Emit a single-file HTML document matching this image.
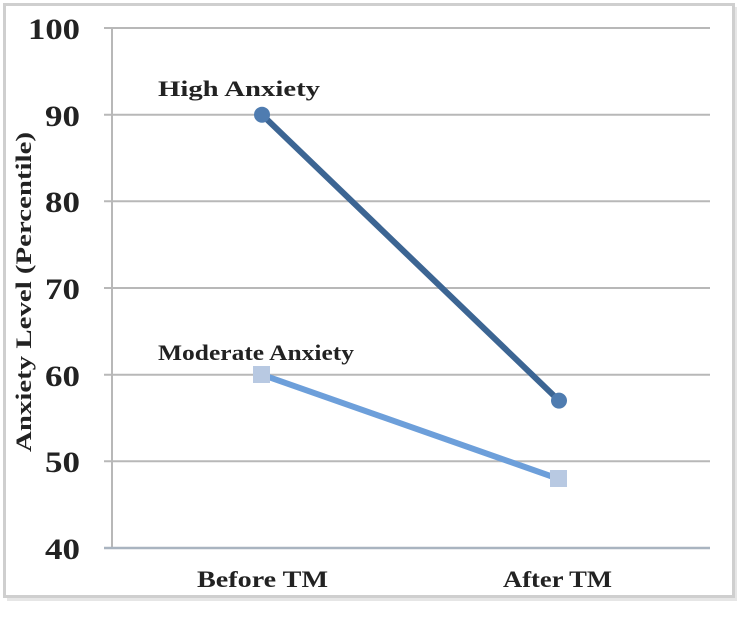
<!DOCTYPE html>
<html><head><style>
body{margin:0;background:#fff;}
</style></head><body>
<svg width="754" height="620" xmlns="http://www.w3.org/2000/svg" font-family="Liberation Serif, serif" font-weight="bold">
<rect x="7" y="7" width="730" height="594" fill="#e6e6e6"/>
<rect x="4.5" y="4.5" width="729" height="592" fill="#fff" stroke="#cfcfcf" stroke-width="3"/>
<g stroke="#b8b8b8" stroke-width="2">
<line x1="104" y1="28" x2="710" y2="28"/>
<line x1="104" y1="114.7" x2="710" y2="114.7"/>
<line x1="104" y1="201.3" x2="710" y2="201.3"/>
<line x1="104" y1="288" x2="710" y2="288"/>
<line x1="104" y1="374.7" x2="710" y2="374.7"/>
<line x1="104" y1="461.3" x2="710" y2="461.3"/>
</g>
<line x1="112" y1="28" x2="112" y2="548" stroke="#b8b8b8" stroke-width="2"/>
<line x1="104" y1="548" x2="710" y2="548" stroke="#a9b4c0" stroke-width="2.5"/>
<g font-size="30" fill="#222">
<text x="28" y="39" textLength="52" lengthAdjust="spacingAndGlyphs">100</text>
<text x="45" y="126" textLength="35" lengthAdjust="spacingAndGlyphs">90</text>
<text x="45" y="212" textLength="35" lengthAdjust="spacingAndGlyphs">80</text>
<text x="45" y="299" textLength="35" lengthAdjust="spacingAndGlyphs">70</text>
<text x="45" y="386" textLength="35" lengthAdjust="spacingAndGlyphs">60</text>
<text x="45" y="472" textLength="35" lengthAdjust="spacingAndGlyphs">50</text>
<text x="45" y="559" textLength="35" lengthAdjust="spacingAndGlyphs">40</text>
</g>
<text transform="translate(31,292) rotate(-90)" font-size="22" text-anchor="middle" fill="#222" textLength="320" lengthAdjust="spacingAndGlyphs">Anxiety Level (Percentile)</text>
<g font-size="23" fill="#222">
<text x="197" y="587" textLength="131" lengthAdjust="spacingAndGlyphs">Before TM</text>
<text x="503" y="587" textLength="109" lengthAdjust="spacingAndGlyphs">After TM</text>
</g>
<text x="158" y="96" font-size="22" fill="#222" textLength="162" lengthAdjust="spacingAndGlyphs">High Anxiety</text>
<text x="158" y="360" font-size="22" fill="#222" textLength="196" lengthAdjust="spacingAndGlyphs">Moderate Anxiety</text>
<line x1="262" y1="114.7" x2="559" y2="400.6" stroke="#3c6593" stroke-width="6"/>
<circle cx="262" cy="114.7" r="8" fill="#4f7cb0"/>
<circle cx="559" cy="400.6" r="8" fill="#4f7cb0"/>
<line x1="262" y1="374.7" x2="559" y2="479" stroke="#6d9fda" stroke-width="6"/>
<rect x="253" y="366" width="17" height="17" fill="#b8c9e2"/>
<rect x="550" y="470" width="17" height="17" fill="#b8c9e2"/>
</svg>
</body></html>
